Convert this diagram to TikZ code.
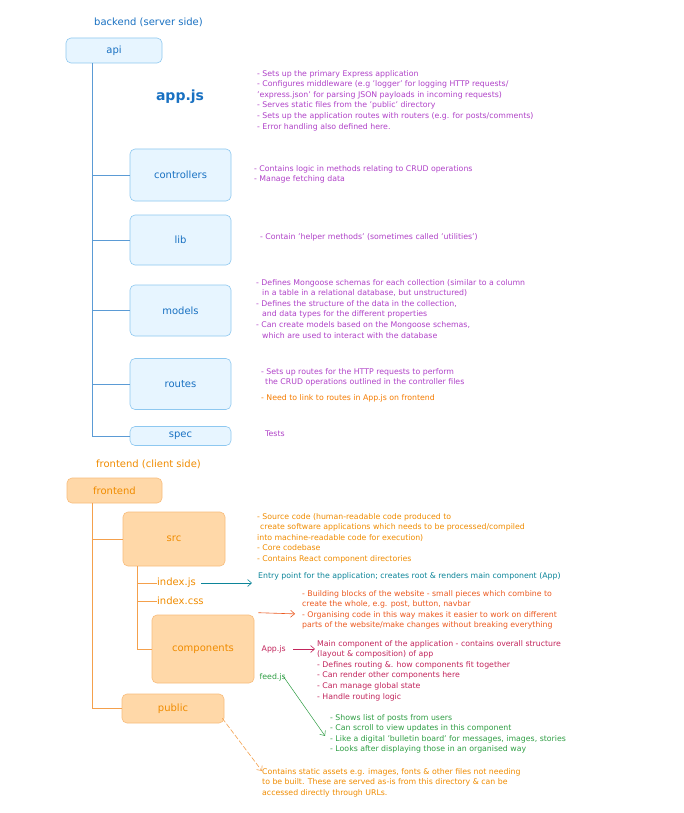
\documentclass[tikz,border=0pt]{standalone}
\usepackage{fontspec}
\setmainfont{DejaVu Sans}
\usetikzlibrary{arrows.meta}

\definecolor{bluetxt}{HTML}{1971C2}
\definecolor{bluefill}{HTML}{E7F5FF}
\definecolor{bluedraw}{HTML}{8EC8F0}
\definecolor{blueline}{HTML}{5B9BD5}
\definecolor{purpletxt}{HTML}{B042C8}
\definecolor{orangetxt}{HTML}{F08C00}
\definecolor{orangehot}{HTML}{F57C00}
\definecolor{orangefill}{HTML}{FFD8A8}
\definecolor{orangedraw}{HTML}{F8BC7C}
\definecolor{orangeline}{HTML}{F4A04C}
\definecolor{tealtxt}{HTML}{0C8599}
\definecolor{redtxt}{HTML}{EC5A20}
\definecolor{crimsontxt}{HTML}{C2255C}
\definecolor{greentxt}{HTML}{2F9E44}

\tikzset{
  boxbase/.style={rounded corners=5pt, line width=0.6pt, inner sep=0pt,
    font=\fontsize{10}{12}\selectfont},
  bluebox/.style={boxbase, draw=bluedraw, fill=bluefill, text=bluetxt},
  orangebox/.style={boxbase, draw=orangedraw, fill=orangefill, text=orangetxt},
  title/.style={font=\fontsize{10}{12}\selectfont, inner sep=0pt},
  desc/.style={font=\fontsize{7.8}{10.6}\selectfont, align=left, inner sep=0pt,
    anchor=north west},
  filelabel/.style={font=\fontsize{10}{12}\selectfont, inner sep=0.5pt, anchor=west,
    text=orangetxt},
  smalllabel/.style={font=\fontsize{7.8}{9}\selectfont, inner sep=0.5pt},
  treeblue/.style={draw=blueline, line width=0.6pt},
  treeorange/.style={draw=orangeline, line width=0.6pt},
  barb/.style={-{Straight Barb[length=4pt,width=7pt]}, line width=0.6pt},
}

\begin{document}
\begin{tikzpicture}[x=1pt,y=-1pt]
\useasboundingbox (0,0) rectangle (684,813);
\fill[white] (0,0) rectangle (684,813);

% ---------------- backend ----------------
\node[title, text=bluetxt] (btitle) at (148.5,22) {backend (server side)};

\node[bluebox, minimum width=96pt, minimum height=25pt] (api) at (114,50.5) {api};
\node[font=\bfseries\fontsize{14}{16}\selectfont, text=bluetxt, inner sep=0pt] (appjs) at (180,97) {app.js};

\node[bluebox, minimum width=101pt, minimum height=52pt] (controllers) at (180.5,175) {controllers};
\node[bluebox, minimum width=101pt, minimum height=50pt] (lib) at (180.5,240) {lib};
\node[bluebox, minimum width=101pt, minimum height=51pt] (models) at (180.5,310.5) {models};
\node[bluebox, minimum width=101pt, minimum height=51pt] (routes) at (180.5,384) {routes};
\node[bluebox, minimum width=101pt, minimum height=19pt] (spec) at (180.5,436) {spec};

% tree of the api folder
\coordinate (btrunk) at ([xshift=27pt]api.south west);
\draw[treeblue] (btrunk) |- (spec.west);
\draw[treeblue] (btrunk |- controllers.west) -- (controllers.west);
\draw[treeblue] (btrunk |- lib.west) -- (lib.west);
\draw[treeblue] (btrunk |- models.west) -- (models.west);
\draw[treeblue] (btrunk |- routes.west) -- (routes.west);

% notes on the backend files
\node[desc, text=purpletxt] (appdesc) at (257,70) {%
- Sets up the primary Express application\\
- Configures middleware (e.g 'logger' for logging HTTP requests/\\
'express.json' for parsing JSON payloads in incoming requests)\\
- Serves static files from the 'public' directory\\
- Sets up the application routes with routers (e.g. for posts/comments)\\
- Error handling also defined here.};

\node[desc, text=purpletxt] (ctrldesc) at (254,165) {%
- Contains logic in methods relating to CRUD operations\\
- Manage fetching data};

\node[desc, text=purpletxt] (libdesc) at (260,233) {%
- Contain 'helper methods' (sometimes called 'utilities')};

\node[desc, text=purpletxt] (modeldesc) at (256,279) {%
- Defines Mongoose schemas for each collection (similar to a column\\
\hspace*{6pt}in a table in a relational database, but unstructured)\\
- Defines the structure of the data in the collection,\\
\hspace*{6pt}and data types for the different properties\\
- Can create models based on the Mongoose schemas,\\
\hspace*{6pt}which are used to interact with the database};

\node[desc, text=purpletxt] (routedesc) at (261,368) {%
- Sets up routes for the HTTP requests to perform\\
\hspace*{4pt}the CRUD operations outlined in the controller files};
\node[desc, text=orangehot] (routenote) at (261,394) {%
- Need to link to routes in App.js on frontend};

\node[desc, text=purpletxt] (specdesc) at (265,431) {Tests};

% ---------------- frontend ----------------
\node[title, text=orangetxt] (ftitle) at (148.5,464) {frontend (client side)};

\node[orangebox, minimum width=95pt, minimum height=25pt] (frontend) at (114.5,490.5) {frontend};
\node[orangebox, minimum width=102pt, minimum height=54pt] (src) at (174,539) {src};
\node[filelabel] (indexjs) at (156.5,583) {index.js};
\node[filelabel] (indexcss) at (156.5,601) {index.css};
\node[orangebox, minimum width=102pt, minimum height=68pt] (components) at (203,649) {components};
\node[orangebox, minimum width=102pt, minimum height=29pt] (public) at (173,708.5) {public};

% tree of the frontend folder
\coordinate (ftrunk) at ([xshift=26pt]frontend.south west);
\draw[treeorange] (ftrunk) |- (public.west);
\draw[treeorange] (ftrunk |- src.west) -- (src.west);
\coordinate (strunk) at ([xshift=15pt]src.south west);
\draw[treeorange] (strunk) |- (components.west);
\draw[treeorange] (strunk |- indexjs.west) -- (indexjs.west);
\draw[treeorange] (strunk |- indexcss.west) -- (indexcss.west);

% notes on the frontend files
\node[desc, text=orangetxt] (srcdesc) at (257,513) {%
- Source code (human-readable code produced to\\
\hspace*{3pt}create software applications which needs to be processed/compiled\\
into machine-readable code for execution)\\
- Core codebase\\
- Contains React component directories};

\node[desc, text=tealtxt] (entrydesc) at (258,572) {%
Entry point for the application; creates root \& renders main component (App)};

\node[desc, text=redtxt] (compdesc) at (302,590) {%
- Building blocks of the website - small pieces which combine to\\
create the whole, e.g. post, button, navbar\\
- Organising code in this way makes it easier to work on different\\
parts of the website/make changes without breaking everything};

\node[smalllabel, text=crimsontxt, anchor=west] (appjsfile) at (261,649) {App.js};
\node[desc, text=crimsontxt] (appjsdesc) at (317,640) {%
Main component of the application - contains overall structure\\
(layout \& composition) of app\\
- Defines routing \&. how components fit together\\
- Can render other components here\\
- Can manage global state\\
- Handle routing logic};

\node[smalllabel, text=greentxt, anchor=west] (feedjs) at (259,677) {feed.js};
\node[desc, text=greentxt] (feeddesc) at (330,714) {%
- Shows list of posts from users\\
- Can scroll to view updates in this component\\
- Like a digital 'bulletin board' for messages, images, stories\\
- Looks after displaying those in an organised way};

\node[desc, text=orangetxt] (pubdesc) at (262,768) {%
Contains static assets e.g. images, fonts \& other files not needing\\
to be built. These are served as-is from this directory \& can be\\
accessed directly through URLs.};

% arrows from files to their notes
\draw[barb, draw=tealtxt] ([xshift=5pt]indexjs.east) -- ([xshift=-6pt]indexjs.east -| entrydesc.west);
\draw[barb, draw=redtxt] ([shift={(4pt,2pt)}]components.north east) -- ([shift={(-7pt,-4pt)}]compdesc.west);
\draw[barb, draw=crimsontxt] ([xshift=7pt]appjsfile.east) -- ([xshift=-2pt]appjsfile.east -| appjsdesc.west);
\draw[barb, draw=greentxt, line width=0.5pt] ([shift={(-3pt,5pt)}]feedjs.south east) -- ([shift={(-5pt,-2pt)}]feeddesc.west);
\draw[barb, draw=orangeline, dashed, dash pattern=on 5pt off 2pt] ([shift={(-2pt,5pt)}]public.south east) -- ([shift={(0pt,-3pt)}]pubdesc.north west);

\end{tikzpicture}
\end{document}
